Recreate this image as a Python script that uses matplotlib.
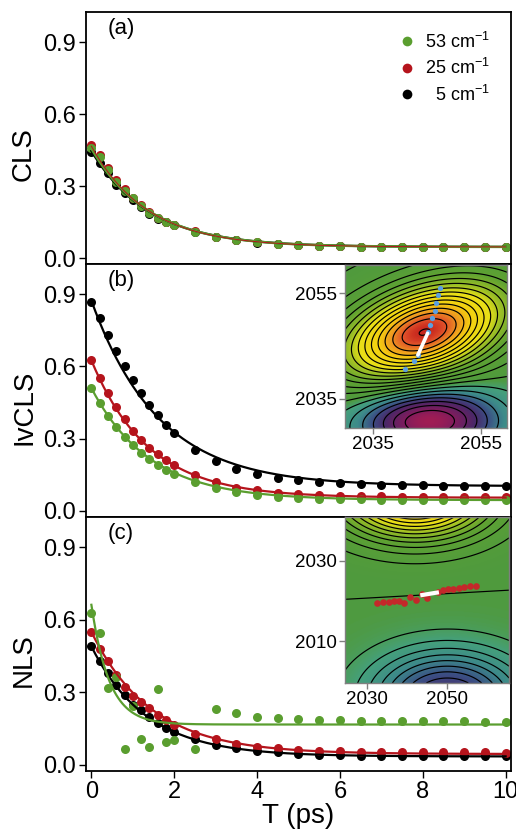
import matplotlib
matplotlib.use("Agg")
import matplotlib.pyplot as plt
import numpy as np
from matplotlib.colors import LinearSegmentedColormap, TwoSlopeNorm

plt.rcParams["font.family"] = ["Liberation Sans", "DejaVu Sans"]
plt.rcParams["mathtext.default"] = "regular"
plt.rcParams["contour.negative_linestyle"] = "solid"

# ── Data ─────────────────────────────────────────────────────────────────────
T = [0.0, 0.2, 0.4, 0.6, 0.8, 1.0, 1.2, 1.4, 1.6, 1.8, 2.0, 2.5, 3.0, 3.5, 4.0,
     4.5, 5.0, 5.5, 6.0, 6.5, 7.0, 7.5, 8.0, 8.5, 9.0, 9.5, 10.0]

cls_53 = [0.457, 0.422, 0.367, 0.318, 0.280, 0.249, 0.217, 0.189, 0.165, 0.151, 0.138,
          0.110, 0.088, 0.076, 0.065, 0.058, 0.054, 0.051, 0.048, 0.047, 0.046, 0.046,
          0.046, 0.046, 0.046, 0.046, 0.046]
cls_25 = [0.471, 0.430, 0.374, 0.326, 0.286, 0.252, 0.219, 0.191, 0.167, 0.152, 0.139,
          0.111, 0.088, 0.076, 0.066, 0.058, 0.054, 0.051, 0.049, 0.047, 0.046, 0.046,
          0.046, 0.046, 0.046, 0.046, 0.046]
cls_5 = [0.443, 0.394, 0.353, 0.304, 0.269, 0.240, 0.212, 0.185, 0.162, 0.149, 0.136,
         0.109, 0.087, 0.075, 0.064, 0.057, 0.053, 0.050, 0.048, 0.047, 0.046, 0.045,
         0.045, 0.045, 0.045, 0.045, 0.045]

ivcls_53 = [0.510, 0.447, 0.395, 0.349, 0.309, 0.273, 0.242, 0.215, 0.191, 0.170, 0.152,
            0.120, 0.094, 0.079, 0.066, 0.058, 0.053, 0.051, 0.049, 0.048, 0.047, 0.047,
            0.046, 0.046, 0.046, 0.046, 0.046]
ivcls_25 = [0.626, 0.551, 0.488, 0.432, 0.381, 0.332, 0.294, 0.263, 0.235, 0.210, 0.191,
            0.150, 0.122, 0.096, 0.087, 0.076, 0.069, 0.066, 0.063, 0.062, 0.061, 0.060,
            0.060, 0.060, 0.059, 0.059, 0.059]
ivcls_5 = [0.868, 0.799, 0.730, 0.664, 0.600, 0.544, 0.488, 0.439, 0.397, 0.357, 0.323,
           0.253, 0.208, 0.176, 0.152, 0.136, 0.127, 0.120, 0.115, 0.111, 0.108, 0.107,
           0.106, 0.105, 0.105, 0.104, 0.104]

nls_53 = [0.626, 0.544, 0.320, 0.363, 0.065, 0.242, 0.108, 0.076, 0.314, 0.095, 0.102,
          0.065, 0.233, 0.214, 0.200, 0.193, 0.189, 0.186, 0.184, 0.183, 0.182, 0.182,
          0.181, 0.180, 0.180, 0.179, 0.177]
nls_25 = [0.550, 0.479, 0.428, 0.373, 0.324, 0.286, 0.262, 0.235, 0.207, 0.186, 0.166,
          0.128, 0.106, 0.087, 0.076, 0.068, 0.062, 0.059, 0.057, 0.055, 0.054, 0.053,
          0.053, 0.052, 0.052, 0.052, 0.051]
nls_5 = [0.490, 0.428, 0.380, 0.331, 0.290, 0.249, 0.228, 0.200, 0.173, 0.152, 0.138,
         0.106, 0.083, 0.069, 0.059, 0.052, 0.046, 0.041, 0.039, 0.038, 0.037, 0.036,
         0.036, 0.035, 0.035, 0.035, 0.035]

# exponential fit parameters (amplitude, tau in ps, offset)
fit_cls = {"53": (0.41, 1.38, 0.046), "25": (0.42, 1.35, 0.046), "5": (0.40, 1.40, 0.046)}
fit_ivcls = {"53": (0.465, 1.42, 0.045), "25": (0.57, 1.38, 0.055), "5": (0.77, 1.62, 0.103)}
fit_nls = {"53": (0.495, 0.43, 0.167), "25": (0.505, 1.45, 0.045), "5": (0.455, 1.33, 0.035)}

# inset (b): centre-line points and fitted segment (cm-1)
cl_w1 = [2047.4, 2047.1, 2046.7, 2046.4, 2045.9, 2045.6, 2045.2, 2043.3, 2042.5, 2040.9]
cl_w3 = [2055.9, 2054.6, 2053.1, 2051.7, 2050.3, 2049.0, 2047.6, 2043.3, 2042.2, 2040.7]
seg_b_w1 = [2045.1, 2043.3]
seg_b_w3 = [2047.4, 2043.3]

# inset (c): nodal-line points and fitted segment
nl_w1 = [2032.6, 2034.0, 2035.4, 2036.7, 2038.0, 2039.3, 2040.8, 2042.2, 2043.6, 2044.9,
         2047.8, 2049.0, 2050.2, 2051.5, 2052.9, 2054.2, 2055.6, 2057.1]
nl_w3 = [2019.5, 2019.7, 2019.75, 2019.9, 2020.0, 2019.6, 2020.9, 2020.25, 2021.7, 2020.7,
         2022.2, 2022.7, 2022.9, 2023.1, 2023.25, 2023.4, 2023.7, 2023.8]
seg_c_w1 = [2043.8, 2047.4]
seg_c_w3 = [2021.5, 2022.1]

# 2D spectrum peak parameters: (amp, x0, y0, sx, sy, rho)
peaks_b = [(1.0, 2044.5, 2047.6, 10.5, 6.5, 0.40), (-0.56, 2045.2, 2031.0, 9.0, 4.5, 0.0)]
peaks_c = [(0.90, 2042.0, 2046.5, 13.0, 7.5, 0.0), (-0.62, 2050.0, 1996.0, 13.0, 8.0, 0.0)]

GREEN = "#5a9e2f"
RED = "#b5141c"
BLACK = "#000000"
BLUE = "#5b9fe0"

cmap = LinearSegmentedColormap.from_list("ir2d", [
    (0.00, "#b01c50"), (0.10, "#7a1d5e"), (0.20, "#4a2868"), (0.28, "#3b4f84"),
    (0.36, "#3d8a8a"), (0.44, "#45a07c"), (0.50, "#4f9a3e"), (0.62, "#5fa232"),
    (0.70, "#9cbf26"), (0.76, "#e8e018"), (0.86, "#f5d010"), (0.92, "#ef9a20"),
    (0.97, "#e0502a"), (1.00, "#c8281e")])


def expfit(p, t):
    a, tau, c = p
    return a * np.exp(-t / tau) + c


def spectrum(peaks, x, y):
    X, Y = np.meshgrid(x, y)
    Z = np.zeros_like(X)
    for amp, x0, y0, sx, sy, rho in peaks:
        dx = (X - x0) / sx
        dy = (Y - y0) / sy
        Z += amp * np.exp(-(dx**2 - 2 * rho * dx * dy + dy**2) / (2 * (1 - rho**2)))
    return Z


fig = plt.figure(figsize=(5.16, 8.36), dpi=100)
L, W = 86 / 516, 425 / 516
ax_a = fig.add_axes([L, 0.6842, W, 0.3014])
ax_b = fig.add_axes([L, 0.3816, W, 0.3026])
ax_c = fig.add_axes([L, 0.0778, W, 0.3038])

tfine = np.linspace(0, 10, 400)
panels = [
    (ax_a, "CLS", "(a)", (cls_5, cls_25, cls_53), fit_cls),
    (ax_b, "IvCLS", "(b)", (ivcls_5, ivcls_25, ivcls_53), fit_ivcls),
    (ax_c, "NLS", "(c)", (nls_5, nls_25, nls_53), fit_nls),
]
for ax, ylab, tag, (d5, d25, d53), fits in panels:
    ax.plot(T, d5, "o", color=BLACK, ms=6.5, mec="none", zorder=2)
    ax.plot(T, d25, "o", color=RED, ms=6.5, mec="none", zorder=2.1)
    ax.plot(T, d53, "o", color=GREEN, ms=6.5, mec="none", zorder=2.2)
    ax.plot(tfine, expfit(fits["5"], tfine), color=BLACK, lw=1.6, zorder=3)
    if ax is ax_a:
        ax.plot(tfine, expfit(fits["53"], tfine), color=GREEN, lw=1.8, zorder=3.1)
        ax.plot(tfine, expfit(fits["25"], tfine), color=RED, lw=0.7, zorder=3.2)
    else:
        ax.plot(tfine, expfit(fits["25"], tfine), color=RED, lw=1.6, zorder=3.1)
        ax.plot(tfine, expfit(fits["53"], tfine), color=GREEN, lw=1.6, zorder=3.2)
    ax.set_xlim(-0.13, 10.13)
    ax.set_ylim(-0.025, 1.025)
    ax.set_yticks([0.0, 0.3, 0.6, 0.9])
    ax.set_yticklabels(["0.0", "0.3", "0.6", "0.9"])
    ax.set_ylabel(ylab, fontsize=20)
    ax.yaxis.set_label_coords(-0.115, 0.435)
    ax.tick_params(axis="y", direction="out", length=5, width=1, labelsize=17, pad=2)
    ax.text(0.052, 0.975, tag, transform=ax.transAxes, fontsize=16, va="top", ha="left")
    for s in ax.spines.values():
        s.set_linewidth(1.3)

for ax in (ax_a, ax_b):
    ax.tick_params(axis="x", bottom=False, labelbottom=False)
ax_c.set_xticks([0, 2, 4, 6, 8, 10])
ax_c.tick_params(axis="x", direction="out", length=5, width=1, labelsize=17, pad=2)
ax_c.set_xlabel("T (ps)", fontsize=20, labelpad=0)

# legend in (a)
h53, = ax_a.plot([], [], "o", color=GREEN, ms=7, mec="none")
h25, = ax_a.plot([], [], "o", color=RED, ms=7, mec="none")
h5, = ax_a.plot([], [], "o", color=BLACK, ms=7, mec="none")
ax_a.legend([h53, h25, h5], ["53 cm$^{-1}$", "25 cm$^{-1}$", "  5 cm$^{-1}$"],
            loc="upper right", bbox_to_anchor=(0.975, 0.965), frameon=False,
            fontsize=13, handlelength=0.8, handletextpad=0.6, labelspacing=0.35,
            borderaxespad=0.2)

# inset (b)
ins_b = fig.add_axes([345 / 516, 0.488, 162 / 516, 0.195])
xb = np.linspace(2029.8, 2059.8, 200)
yb = np.linspace(2029.5, 2060.3, 200)
Zb = spectrum(peaks_b, xb, yb)
ins_b.imshow(Zb, extent=(xb[0], xb[-1], yb[0], yb[-1]), origin="lower", aspect="auto",
             cmap=cmap, norm=TwoSlopeNorm(vmin=-0.58, vcenter=0, vmax=1.0),
             interpolation="bilinear")
ins_b.contour(xb, yb, Zb, levels=np.arange(-0.545, 1.0, 0.07), colors="k", linewidths=0.85)
ins_b.plot(cl_w1, cl_w3, "o", color=BLUE, ms=3.8, mec="none", zorder=4)
ins_b.plot(seg_b_w1, seg_b_w3, color="white", lw=2.6, zorder=5, solid_capstyle="round")
ins_b.set_xlim(xb[0], xb[-1])
ins_b.set_ylim(yb[0], yb[-1])
ins_b.set_xticks([2035, 2055])
ins_b.set_yticks([2035, 2055])

# inset (c)
ins_c = fig.add_axes([345 / 516, 0.183, 164 / 516, 0.1986])
xc = np.linspace(2024.6, 2065.3, 200)
yc = np.linspace(1999.5, 2041.0, 200)
Zc = spectrum(peaks_c, xc, yc)
ins_c.imshow(Zc, extent=(xc[0], xc[-1], yc[0], yc[-1]), origin="lower", aspect="auto",
             cmap=cmap, norm=TwoSlopeNorm(vmin=-1.1, vcenter=0, vmax=1.0),
             interpolation="bilinear")
ins_c.contour(xc, yc, Zc, levels=np.arange(-9, 11) * 0.065, colors="k", linewidths=0.85)
ins_c.plot(nl_w1, nl_w3, "o", color="#c4282a", ms=4.8, mec="none", zorder=4)
ins_c.plot(seg_c_w1, seg_c_w3, color="white", lw=3, zorder=5)
ins_c.set_xlim(xc[0], xc[-1])
ins_c.set_ylim(yc[0], yc[-1])
ins_c.set_xticks([2030, 2050])
ins_c.set_yticks([2010, 2030])

for ins in (ins_b, ins_c):
    ins.tick_params(direction="out", length=4, width=1, color="#808080",
                    labelsize=13.5, pad=2)
    for s in ins.spines.values():
        s.set_color("#808080")
        s.set_linewidth(1)

fig.savefig("out.png", dpi=100)
